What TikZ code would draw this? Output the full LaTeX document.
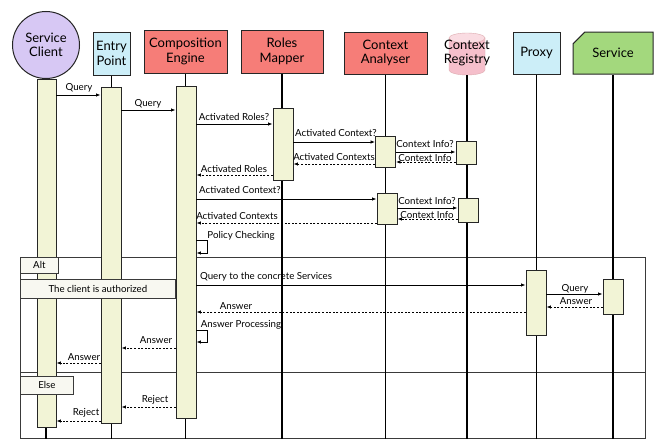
\documentclass[tikz,border=0pt]{standalone}
\usepackage{fontspec}
\setmainfont{Lato}
\usetikzlibrary{shapes.geometric,shapes.misc,arrows.meta}
\definecolor{barfill}{HTML}{F2F4D6}
\definecolor{clientc}{HTML}{D7C8F4}
\definecolor{bluec}{HTML}{CCEEF8}
\definecolor{salmon}{HTML}{F67D78}
\definecolor{pinkc}{HTML}{F5BFCB}
\definecolor{greenc}{HTML}{A3D87D}
\definecolor{boxc}{HTML}{F8F8F1}
\definecolor{framec}{HTML}{3A3A3A}
\begin{document}
\begin{tikzpicture}[x=1pt,y=-1pt,
  hdr/.style={draw=black!85, line width=1pt, inner sep=0pt, align=center, font=\fontsize{13}{14.5}\selectfont},
  life/.style={line width=1.3pt, black},
  bar/.style={draw=black!85, line width=0.9pt, fill=barfill, inner sep=0pt, minimum width=20, anchor=north},
  msg/.style={-{Latex[length=4.5pt,width=3.5pt]}, line width=0.8pt},
  ret/.style={msg, dash pattern=on 2pt off 1.6pt},
  lbl/.style={font=\fontsize{9.7}{10}\selectfont, inner sep=0pt},
  tag/.style={draw=framec, line width=0.8pt, fill=boxc, inner sep=0pt, anchor=north west, font=\fontsize{9.7}{10}\selectfont},
  frameline/.style={draw=framec, line width=0.9pt}]
\useasboundingbox (0,0) rectangle (654,439);
\fill[white] (0,0) rectangle (654,439);
\coordinate (bot) at (0,439);

% alt frame
\draw[frameline] (20,257) rectangle (645,438);
\draw[frameline] (20,372) -- (645,372);

% headers
\node[hdr, circle, fill=clientc, minimum size=67] (sc) at (46,45) {Service\\Client};
\node[hdr, fill=bluec, minimum width=37, minimum height=43] (ep) at (111.5,53.5) {Entry\\Point};
\node[hdr, fill=salmon, minimum width=83, minimum height=43] (ce) at (185.5,51.5) {Composition\\Engine};
\node[hdr, fill=salmon, minimum width=82, minimum height=43] (rm) at (282,51.5) {Roles\\Mapper};
\node[hdr, fill=salmon, minimum width=83, minimum height=42] (ca) at (385.5,53) {Context\\Analyser};
\node[minimum width=36, minimum height=42, inner sep=0pt] (crc) at (467,54) {};
\fill[pinkc, draw=pinkc!75!red!80!black!60] (449,38) -- (449,70) arc[start angle=180, end angle=0, x radius=18, y radius=5] -- (485,38) -- cycle;
\filldraw[fill=pinkc!55!white, draw=pinkc!75!red!80!black!60] (467,38) ellipse[x radius=18, y radius=5];
\node[align=center, inner sep=0pt, font=\fontsize{13}{14.5}\selectfont] (cr) at (467,53) {Context\\Registry};
\node[hdr, fill=bluec, minimum width=47, minimum height=42] (px) at (536.5,53) {Proxy};
\node[hdr, chamfered rectangle, chamfered rectangle corners=north west, chamfered rectangle xsep=7pt, chamfered rectangle ysep=7pt, fill=greenc, minimum width=80, minimum height=42] (sv) at (613,53) {Service};

% lifelines
\draw[life] (sc.south) -- (sc.south |- bot);
\draw[life] (ep.south) -- (ep.south |- bot);
\draw[life] (ce.south) -- (ce.south |- bot);
\draw[life] (rm.south) -- (rm.south |- bot);
\draw[life] (ca.south) -- (ca.south |- bot);
\draw[life] (crc.south) -- (crc.south |- bot);
\draw[life] (px.south) -- (px.south |- bot);
\draw[life] (sv.south) -- (sv.south |- bot);

% activation bars
\node[bar, minimum width=19, minimum height=348] (scb) at (46.5,79) {};
\node[bar, minimum height=336] (epb) at (111,87) {};
\node[bar, minimum height=332] (ceb) at (186,86) {};
\node[bar, minimum height=72] (rmb) at (283,108) {};
\node[bar, minimum height=31] (cab1) at (385.5,136) {};
\node[bar, minimum height=31] (cab2) at (387,193) {};
\node[bar, minimum height=23] (crb1) at (466,141) {};
\node[bar, minimum height=24] (crb2) at (468,198) {};
\node[bar, minimum height=65] (pxb) at (536,270) {};
\node[bar, minimum height=35] (svb) at (613,279) {};

% tags
\node[tag, minimum width=38, minimum height=16] (alt) at (20,257) {Alt};
\node[tag, minimum width=155, minimum height=19] (cond) at (20,279) {The client is authorized};
\node[tag, minimum width=53, minimum height=18] (else) at (20,376) {Else};

% messages
\draw[msg] (scb.east |- 0,95) -- (epb.west |- 0,95);
\node[lbl] (l1) at (79,88) {Query};
\draw[msg] (epb.east |- 0,110) -- (ceb.west |- 0,110);
\node[lbl] (l2) at (148,104) {Query};
\draw[msg] (ceb.east |- 0,124) -- (rmb.west |- 0,124);
\node[lbl] (l3) at (234,117) {Activated Roles?};
\draw[msg] (rmb.east |- 0,142) -- (cab1.west |- 0,142);
\node[lbl] (l4) at (336,133) {Activated Context?};
\draw[msg] (cab1.east |- 0,152) -- (crb1.west |- 0,152);
\node[lbl] (l5) at (425,144) {Context Info?};
\draw[ret] (crb1.west |- 0,162) -- (cab1.east |- 0,162);
\node[lbl] (l6) at (425,158) {Context Info};
\draw[ret] (cab1.west |- 0,164) -- (rmb.east |- 0,164);
\node[lbl] (l7) at (334,157) {Activated Contexts};
\draw[ret] (rmb.west |- 0,175) -- (ceb.east |- 0,175);
\node[lbl] (l8) at (234,169) {Activated Roles};
\draw[msg] (ceb.east |- 0,199) -- (cab2.west |- 0,199);
\node[lbl] (l9) at (240,190) {Activated Context?};
\draw[msg] (cab2.east |- 0,208) -- (crb2.west |- 0,208);
\node[lbl] (l10) at (427,201) {Context Info?};
\draw[ret] (crb2.west |- 0,219) -- (cab2.east |- 0,219);
\node[lbl] (l11) at (427,215) {Context Info};
\draw[ret] (cab2.west |- 0,223) -- (ceb.east |- 0,223);
\node[lbl] (l12) at (237,216) {Activated Contexts};
\draw[msg] (ceb.east |- 0,240) -- ++(11,0) -- ++(0,13) -- (ceb.east |- 0,253);
\node[lbl] (l13) at (241,236) {Policy Checking};
\draw[msg] (ceb.east |- 0,285) -- (pxb.west |- 0,285);
\node[lbl] (l14) at (266,277) {Query to the concrete Services};
\draw[msg] (pxb.east |- 0,294) -- (svb.west |- 0,294);
\node[lbl] (l15) at (575,289) {Query};
\draw[ret] (svb.west |- 0,307) -- (pxb.east |- 0,307);
\node[lbl] (l16) at (576,301) {Answer};
\draw[ret] (pxb.west |- 0,312) -- (ceb.east |- 0,312);
\node[lbl] (l17) at (236,306) {Answer};
\draw[msg] (ceb.east |- 0,330) -- ++(11,0) -- ++(0,12) -- (ceb.east |- 0,342);
\node[lbl] (l18) at (241,325) {Answer Processing};
\draw[ret] (ceb.west |- 0,348) -- (epb.east |- 0,348);
\node[lbl] (l19) at (156,340) {Answer};
\draw[ret] (epb.west |- 0,363) -- (scb.east |- 0,363);
\node[lbl] (l20) at (84,357) {Answer};
\draw[ret] (ceb.west |- 0,407) -- (epb.east |- 0,407);
\node[lbl] (l21) at (155,400) {Reject};
\draw[ret] (epb.west |- 0,421) -- (scb.east |- 0,421);
\node[lbl] (l22) at (86,413) {Reject};
\end{tikzpicture}
\end{document}
